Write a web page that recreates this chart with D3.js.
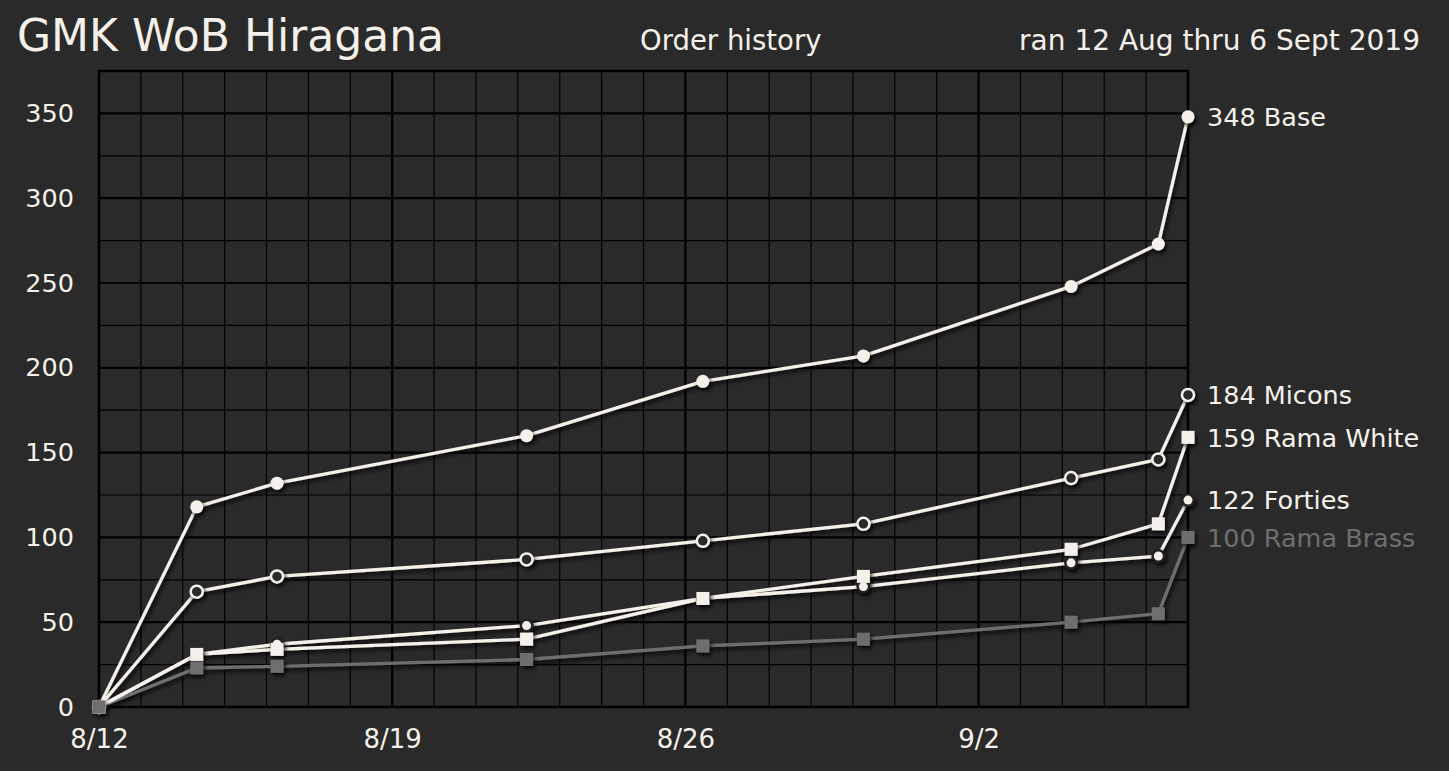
<!DOCTYPE html>
<html>
<head>
<meta charset="utf-8">
<script src="https://cdn.jsdelivr.net/npm/d3@7"></script>
<style>
  body { margin: 0; background: #2a2a2a; }
  svg { display: block; }
  text { font-family: "DejaVu Sans", sans-serif; fill: #f5f1ea; }
</style>
</head>
<body>
<svg id="chart"></svg>
<script>
// sample times (order count snapshots)
const dates = ["2019-08-12T00:00", "2019-08-14T08:00", "2019-08-16T06:00", "2019-08-22T05:00",
               "2019-08-26T10:00", "2019-08-30T06:00", "2019-09-04T05:00", "2019-09-06T07:00",
               "2019-09-07T00:00"];

const base       = [0, 118, 132, 160, 192, 207, 248, 273, 348];
const micons     = [0, 68, 77, 87, 98, 108, 135, 146, 184];
const ramaWhite  = [0, 31, 34, 40, 64, 77, 93, 108, 159];
const forties    = [0, 31, 37, 48, 64, 71, 85, 89, 122];
const ramaBrass  = [0, 23, 24, 28, 36, 40, 50, 55, 100];

const yTicks = [0, 50, 100, 150, 200, 250, 300, 350];

const W = 1449, H = 771;
const light = "#f5f1ea", grey = "#6e6e6e";

const parse = d3.timeParse("%Y-%m-%dT%H:%M");
const times = dates.map(parse);

const series = [
    { name: "Rama Brass", values: ramaBrass, color: grey,  marker: "square" },
    { name: "Forties",    values: forties,   color: light, marker: "dot" },
    { name: "Rama White", values: ramaWhite, color: light, marker: "square" },
    { name: "Micons",     values: micons,    color: light, marker: "ring" },
    { name: "Base",       values: base,      color: light, marker: "circle" }
].map(s => ({ ...s, points: s.values.map((v, i) => ({ t: times[i], v })) }));

const svg = d3.select("#chart").attr("width", W).attr("height", H);

svg.append("rect").attr("width", W).attr("height", H).attr("fill", "#2a2a2a");

const defs = svg.append("defs");
defs.append("filter").attr("id", "shadow")
    .attr("x", "-50%").attr("y", "-50%").attr("width", "200%").attr("height", "200%")
    .append("feDropShadow")
    .attr("dx", 2).attr("dy", 3).attr("stdDeviation", 2)
    .attr("flood-color", "#000").attr("flood-opacity", 0.85);

const x = d3.scaleTime()
    .domain([new Date(2019, 7, 12), new Date(2019, 8, 7)])
    .range([99, 1188]);

const y = d3.scaleLinear()
    .domain([0, 375])
    .range([707, 71]);

// grid
const grid = svg.append("g");
const days = d3.timeDay.range(x.domain()[0], d3.timeDay.offset(x.domain()[1], 1));
grid.selectAll(".vline")
    .data(days)
    .enter().append("line")
    .attr("x1", d => x(d)).attr("x2", d => x(d))
    .attr("y1", y(375)).attr("y2", y(0))
    .attr("stroke", "#000")
    .attr("stroke-width", d => d.getDay() === 1 ? 2.2 : 1.2);

grid.selectAll(".hline")
    .data(d3.range(0, 376, 25))
    .enter().append("line")
    .attr("x1", x.range()[0]).attr("x2", x.range()[1])
    .attr("y1", d => y(d)).attr("y2", d => y(d))
    .attr("stroke", "#000")
    .attr("stroke-width", d => d % 50 === 0 ? 2.2 : 1.2);

grid.append("rect")
    .attr("x", x.range()[0]).attr("y", y(375))
    .attr("width", x.range()[1] - x.range()[0])
    .attr("height", y(0) - y(375))
    .attr("fill", "none")
    .attr("stroke", "#000")
    .attr("stroke-width", 2.5);

// axes (labels only)
const yAxis = svg.append("g")
    .attr("transform", "translate(74,0)")
    .call(d3.axisLeft(y).tickValues(yTicks).tickSize(0).tickPadding(0));
yAxis.select(".domain").remove();
yAxis.selectAll("text")
    .style("font-family", "DejaVu Sans")
    .style("font-size", "25.5px")
    .attr("fill", light);

const xAxis = svg.append("g")
    .attr("transform", "translate(0,730)")
    .call(d3.axisBottom(x).ticks(d3.timeMonday.every(1)).tickFormat(d3.timeFormat("%-m/%-d"))
        .tickSize(0).tickPadding(0));
xAxis.select(".domain").remove();
xAxis.selectAll("text")
    .style("font-family", "DejaVu Sans")
    .style("font-size", "26px")
    .attr("fill", light);

// lines first (brass at the bottom), then markers (brass on top)
const line = d3.line().x(d => x(d.t)).y(d => y(d.v));

svg.append("g").attr("filter", "url(#shadow)")
    .selectAll("path")
    .data(series)
    .enter().append("path")
    .attr("d", d => line(d.points))
    .attr("fill", "none")
    .attr("stroke", d => d.color)
    .attr("stroke-width", 3.3)
    .attr("stroke-linejoin", "round");

const markers = svg.append("g").attr("filter", "url(#shadow)");
const markerOrder = ["Base", "Micons", "Forties", "Rama White", "Rama Brass"];
markerOrder.map(n => series.find(s => s.name === n)).forEach(s => {
    const pts = markers.append("g").selectAll(".pt").data(s.points).enter();
    if (s.marker === "square") {
        pts.append("rect")
            .attr("x", d => x(d.t) - 6.5).attr("y", d => y(d.v) - 6.5)
            .attr("width", 13).attr("height", 13)
            .attr("fill", s.color);
    } else if (s.marker === "circle") {
        pts.append("circle")
            .attr("cx", d => x(d.t)).attr("cy", d => y(d.v))
            .attr("r", 6.5).attr("fill", s.color);
    } else if (s.marker === "ring") {
        pts.append("circle")
            .attr("cx", d => x(d.t)).attr("cy", d => y(d.v))
            .attr("r", 6).attr("fill", "#2a2a2a")
            .attr("stroke", s.color).attr("stroke-width", 2.5);
    } else {
        pts.append("circle")
            .attr("cx", d => x(d.t)).attr("cy", d => y(d.v))
            .attr("r", 7).attr("fill", "#222");
        pts.append("circle")
            .attr("cx", d => x(d.t)).attr("cy", d => y(d.v))
            .attr("r", 4.5).attr("fill", s.color);
    }
});

// end labels
svg.selectAll(".endlabel")
    .data(series)
    .enter().append("text")
    .attr("x", 1207)
    .attr("y", d => y(d.values[d.values.length - 1]))
    .attr("dy", "0.36em")
    .style("font-size", "25.5px")
    .style("fill", d => d.color)
    .text(d => `${d.values[d.values.length - 1]} ${d.name}`);

// titles
svg.append("text")
    .attr("x", 17).attr("y", 51)
    .style("font-size", "44px")
    .text("GMK WoB Hiragana");

svg.append("text")
    .attr("x", 640).attr("y", 50)
    .style("font-size", "27.5px")
    .text("Order history");

svg.append("text")
    .attr("x", 1420).attr("y", 50)
    .attr("text-anchor", "end")
    .style("font-size", "28px")
    .text("ran 12 Aug thru 6 Sept 2019");
</script>
</body>
</html>
